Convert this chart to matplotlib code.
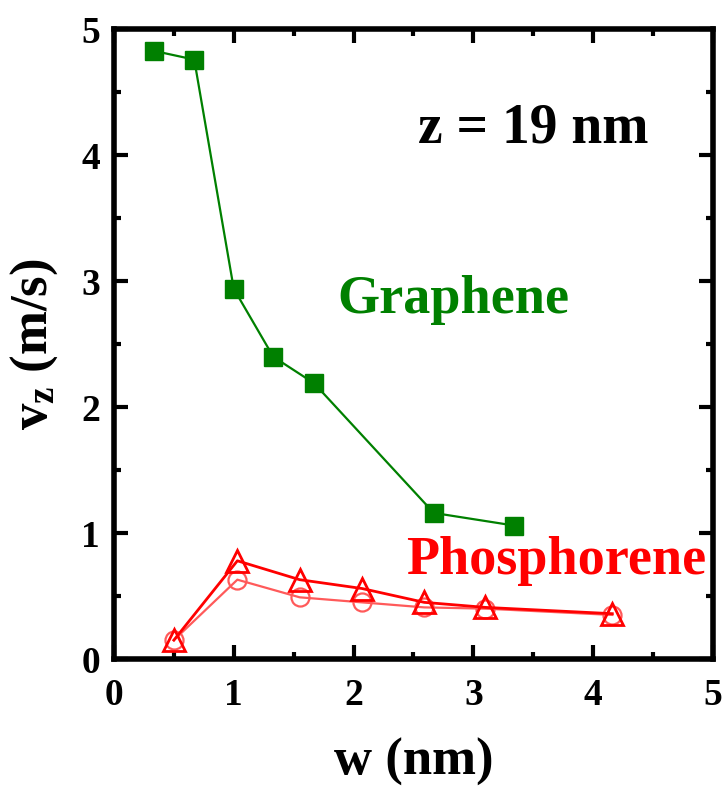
import matplotlib
matplotlib.use('Agg')
import matplotlib.pyplot as plt
from matplotlib.ticker import MultipleLocator

plt.rcParams['font.family'] = ['Liberation Serif', 'DejaVu Serif']
plt.rcParams['font.weight'] = 'bold'
plt.rcParams['mathtext.fontset'] = 'custom'
plt.rcParams['mathtext.rm'] = 'Liberation Serif:bold'
plt.rcParams['mathtext.it'] = 'Liberation Serif:bold'

# graphene channel
w_gr = [0.33, 0.67, 1.0, 1.33, 1.67, 2.67, 3.34]
vz_gr = [4.83, 4.76, 2.94, 2.40, 2.19, 1.16, 1.06]

# phosphorene channel, two orientations
w_ph = [0.5, 1.03, 1.55, 2.07, 2.59, 3.1, 4.16]
vz_ph_tri = [0.15, 0.78, 0.63, 0.56, 0.45, 0.41, 0.36]
vz_ph_circ = [0.15, 0.63, 0.49, 0.45, 0.41, 0.40, 0.35]

fig = plt.figure(figsize=(7.26, 7.94), dpi=100)
ax = fig.add_axes([0.157, 0.170, 0.825, 0.793])

ax.plot(w_ph, vz_ph_circ, '-o', color='#ff5a5a', lw=1.6, ms=13,
        mfc='none', mec='#ff5a5a', mew=1.6, zorder=2)
ax.plot(w_ph, vz_ph_tri, '-^', color='red', lw=2.0, ms=15.5,
        mfc='none', mec='red', mew=2.0, zorder=3)
ax.plot(w_gr, vz_gr, '-s', color='#008000', lw=1.6, ms=12.5,
        mfc='#008000', mec='#008000', zorder=4)

ax.set_xlim(0, 5)
ax.set_ylim(0, 5)
ax.xaxis.set_major_locator(MultipleLocator(1))
ax.xaxis.set_minor_locator(MultipleLocator(0.5))
ax.yaxis.set_major_locator(MultipleLocator(1))
ax.yaxis.set_minor_locator(MultipleLocator(0.5))
ax.tick_params(which='both', direction='in', top=True, right=True,
               width=3, labelsize=27)
ax.tick_params(axis='x', pad=14)
ax.tick_params(axis='y', pad=10)
ax.tick_params(which='major', length=10)
ax.tick_params(which='minor', length=5)
for s in ax.spines.values():
    s.set_linewidth(4)

ax.set_xlabel('w (nm)', fontsize=38, fontweight='bold')
ax.set_ylabel(r'v$_\mathregular{z}$ (m/s)', fontsize=38, fontweight='bold')
ax.xaxis.set_label_coords(0.5, -0.125)
ax.yaxis.set_label_coords(-0.09, 0.5)

ax.text(0.70, 0.843, 'z = 19 nm', transform=ax.transAxes, fontsize=40,
        fontweight='bold', ha='center', va='center')
ax.text(0.566, 0.57, 'Graphene', transform=ax.transAxes, fontsize=39,
        fontweight='bold', color='#008000', ha='center', va='center')
ax.text(0.738, 0.155, 'Phosphorene', transform=ax.transAxes, fontsize=39,
        fontweight='bold', color='red', ha='center', va='center')

fig.savefig('out.png', dpi=100)
